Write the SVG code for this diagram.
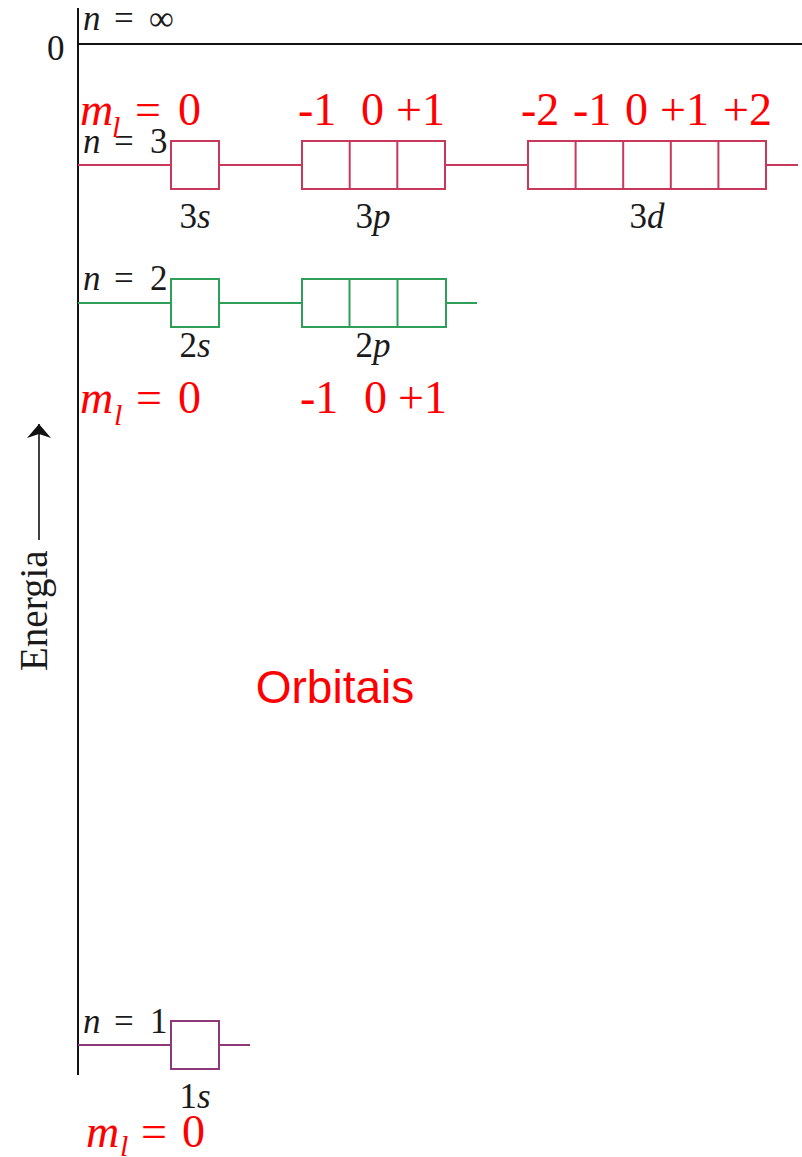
<svg xmlns="http://www.w3.org/2000/svg" width="802" height="1157" viewBox="0 0 802 1157">
<style>
.lab{font-family:"Liberation Serif","Times New Roman",serif;font-size:35px;fill:#1a1a1a}
.it{font-style:italic}
.red{font-family:"Liberation Serif","Times New Roman",serif;font-size:46px;fill:#ff0000}
.sub{font-size:30px;font-style:italic}
.ax{stroke:#111;stroke-width:2;fill:none}
.n3{stroke:#c8385a;stroke-width:2;fill:#fff}
.n2{stroke:#2e9e58;stroke-width:2;fill:#fff}
.n1{stroke:#8e3a7a;stroke-width:2;fill:#fff}
</style>
<defs>
<marker id="arr" viewBox="0 0 14 24" refX="14" refY="12" markerWidth="14" markerHeight="24" orient="auto" markerUnits="userSpaceOnUse">
<path d="M0,0 L14,12 L0,24 L4,12 Z" fill="#111"/>
</marker>
</defs>

<g id="axes">
<line class="ax" x1="78" y1="8" x2="78" y2="1075"/>
<line class="ax" x1="78" y1="44" x2="802" y2="44"/>
<text class="lab" x="47" y="60">0</text>
<text class="lab" y="30"><tspan class="it" x="83">n</tspan><tspan x="114">=</tspan><tspan x="149">∞</tspan></text>
</g>

<g id="energy-arrow">
<line x1="39" y1="540" x2="39" y2="424" stroke="#111" stroke-width="1.6" marker-end="url(#arr)"/>
<text class="lab" transform="translate(47,671) rotate(-90)" style="font-size:39px">Energia</text>
</g>

<g id="connectors">
<line class="n3" x1="78" y1="165" x2="798" y2="165"/>
<line class="n2" x1="78" y1="303" x2="477" y2="303"/>
<line class="n1" x1="78" y1="1045" x2="250" y2="1045"/>
</g>

<g id="level-n3">
<text class="lab" y="153"><tspan class="it" x="83">n</tspan><tspan x="114">=</tspan><tspan x="150">3</tspan></text>
<g id="orb-3s">
<rect class="n3" x="171" y="141" width="48" height="48"/>
<text class="lab" x="195" y="228" text-anchor="middle">3<tspan class="it">s</tspan></text>
</g>
<g id="orb-3p">
<rect class="n3" x="302" y="141" width="143" height="48"/>
<line class="n3" x1="349.7" y1="141" x2="349.7" y2="189"/>
<line class="n3" x1="397.3" y1="141" x2="397.3" y2="189"/>
<text class="lab" x="373" y="228" text-anchor="middle">3<tspan class="it">p</tspan></text>
</g>
<g id="orb-3d">
<rect class="n3" x="528" y="141" width="238" height="48"/>
<line class="n3" x1="575.6" y1="141" x2="575.6" y2="189"/>
<line class="n3" x1="623.2" y1="141" x2="623.2" y2="189"/>
<line class="n3" x1="670.8" y1="141" x2="670.8" y2="189"/>
<line class="n3" x1="718.4" y1="141" x2="718.4" y2="189"/>
<text class="lab" x="647" y="228" text-anchor="middle">3<tspan class="it">d</tspan></text>
</g>
</g>

<g id="ml-n3">
<text class="red" y="125"><tspan class="it" x="80">m</tspan><tspan class="sub" x="112" y="137">l</tspan><tspan x="135" y="125">=</tspan><tspan x="178">0</tspan></text>
<text class="red" y="125"><tspan x="298">-1</tspan><tspan x="361">0</tspan><tspan x="396">+1</tspan></text>
<text class="red" y="125"><tspan x="521">-2</tspan><tspan x="573">-1</tspan><tspan x="625">0</tspan><tspan x="660">+1</tspan><tspan x="723">+2</tspan></text>
</g>

<g id="level-n2">
<text class="lab" y="290"><tspan class="it" x="83">n</tspan><tspan x="114">=</tspan><tspan x="150">2</tspan></text>
<g id="orb-2s">
<rect class="n2" x="171" y="279" width="48" height="48"/>
<text class="lab" x="195" y="357" text-anchor="middle">2<tspan class="it">s</tspan></text>
</g>
<g id="orb-2p">
<rect class="n2" x="302" y="279" width="144" height="48"/>
<line class="n2" x1="349.5" y1="279" x2="349.5" y2="327"/>
<line class="n2" x1="397.5" y1="279" x2="397.5" y2="327"/>
<text class="lab" x="373" y="357" text-anchor="middle">2<tspan class="it">p</tspan></text>
</g>
</g>

<g id="ml-n2">
<text class="red" y="413"><tspan class="it" x="80">m</tspan><tspan class="sub" x="114" y="425">l</tspan><tspan x="136" y="413">=</tspan><tspan x="178">0</tspan></text>
<text class="red" y="413"><tspan x="300">-1</tspan><tspan x="364">0</tspan><tspan x="398">+1</tspan></text>
</g>

<g id="title">
<text x="335" y="703" text-anchor="middle" style="font-family:'Liberation Sans',Arial,sans-serif;font-size:46px;fill:#ff0000">Orbitais</text>
</g>

<g id="level-n1">
<text class="lab" y="1033"><tspan class="it" x="83">n</tspan><tspan x="114">=</tspan><tspan x="150">1</tspan></text>
<g id="orb-1s">
<rect class="n1" x="171" y="1021" width="48" height="48"/>
<text class="lab" x="195" y="1108" text-anchor="middle">1<tspan class="it">s</tspan></text>
</g>
</g>

<g id="ml-n1">
<text class="red" y="1147"><tspan class="it" x="86">m</tspan><tspan class="sub" x="120" y="1156">l</tspan><tspan x="141" y="1147">=</tspan><tspan x="182">0</tspan></text>
</g>
</svg>
